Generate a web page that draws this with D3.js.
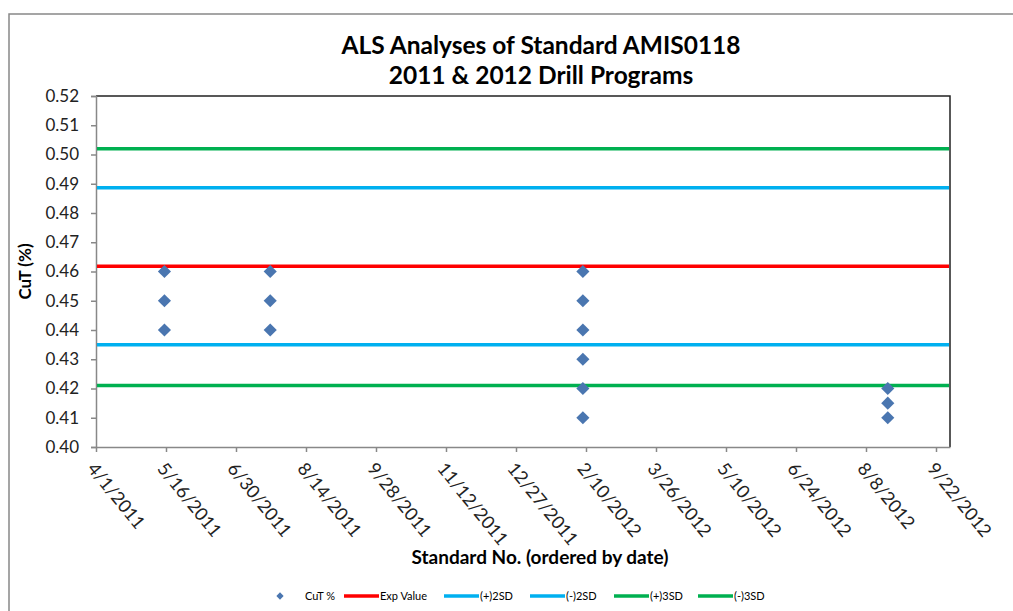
<!DOCTYPE html>
<html>
<head>
<meta charset="utf-8">
<script src="https://cdn.jsdelivr.net/npm/d3@7"></script>
<style>
  body { margin: 0; background: #fff; }
</style>
</head>
<body>
<div id="chart"></div>
<script>
// data
const sampleDates = ["2011-05-15", "2011-05-15", "2011-05-15",
                     "2011-07-22", "2011-07-22", "2011-07-22",
                     "2012-02-08", "2012-02-08", "2012-02-08", "2012-02-08", "2012-02-08", "2012-02-08",
                     "2012-08-22", "2012-08-22", "2012-08-22"];
const cutValues = [0.46, 0.45, 0.44,
                   0.46, 0.45, 0.44,
                   0.46, 0.45, 0.44, 0.43, 0.42, 0.41,
                   0.42, 0.415, 0.41];

const limitNames = ["Exp Value", "(+)2SD", "(-)2SD", "(+)3SD", "(-)3SD"];
const limitValues = [0.4618, 0.4886, 0.4350, 0.5020, 0.4210];
const limitColors = ["#ff0000", "#00b0f0", "#00b0f0", "#00b050", "#00b050"];

const xTickLabels = ["4/1/2011", "5/16/2011", "6/30/2011", "8/14/2011", "9/28/2011", "11/12/2011",
                     "12/27/2011", "2/10/2012", "3/26/2012", "5/10/2012", "6/24/2012", "8/8/2012", "9/22/2012"];
const yTicks = [0.40, 0.41, 0.42, 0.43, 0.44, 0.45, 0.46, 0.47, 0.48, 0.49, 0.50, 0.51, 0.52];

const width = 1013, height = 611;
const margin = { left: 96, top: 96, right: 63, bottom: 164 };
const font = "Lato, 'Open Sans', sans-serif";

const parse = d3.timeParse("%Y-%m-%d");
const parseTick = d3.timeParse("%m/%d/%Y");

const svg = d3.select("#chart").append("svg")
    .attr("width", width).attr("height", height)
    .style("font-family", font);

// outer chart border
svg.append("rect")
    .attr("x", 9).attr("y", 14)
    .attr("width", width + 10).attr("height", height + 10)
    .attr("fill", "none").attr("stroke", "#888").attr("stroke-width", 1.5);

const x = d3.scaleTime()
    .domain([parse("2011-04-01"), parse("2012-10-01")])
    .range([margin.left, width - margin.right]);
const y = d3.scaleLinear()
    .domain([0.40, 0.52])
    .range([height - margin.bottom, margin.top]);

// title
const title = svg.append("text")
    .attr("x", 541).attr("text-anchor", "middle")
    .style("font-size", "24.5px").style("font-weight", "bold").style("fill", "#000");
title.append("tspan").attr("x", 541).attr("y", 54).text("ALS Analyses of Standard AMIS0118");
title.append("tspan").attr("x", 541).attr("y", 84).text("2011 & 2012 Drill Programs");

// plot frame: black top/right
svg.append("path")
    .attr("d", `M${margin.left},${y(0.52)}H${x.range()[1]}V${y(0.40)}`)
    .attr("fill", "none").attr("stroke", "#222").attr("stroke-width", 1.5);

// y axis
const yAxis = svg.append("g")
    .attr("transform", `translate(${margin.left},0)`)
    .call(d3.axisLeft(y).tickValues(yTicks).tickFormat(d3.format(".2f")).tickSize(5).tickPadding(12));
yAxis.select(".domain").attr("stroke", "#888").attr("stroke-width", 1.5);
yAxis.selectAll(".tick line").attr("stroke", "#888").attr("stroke-width", 1.5);
yAxis.selectAll(".tick text").style("font-size", "17px").style("fill", "#222").style("font-family", font);

// x axis
const xAxis = svg.append("g")
    .attr("transform", `translate(0,${y(0.40)})`)
    .call(d3.axisBottom(x).tickValues(xTickLabels.map(parseTick))
        .tickFormat((d, i) => xTickLabels[i]).tickSize(5).tickSizeOuter(0));
xAxis.select(".domain").attr("stroke", "#888").attr("stroke-width", 1.5);
xAxis.selectAll(".tick line").attr("stroke", "#888").attr("stroke-width", 1.5);
xAxis.selectAll(".tick text")
    .style("font-size", "18px").style("fill", "#222").style("font-family", font)
    .attr("text-anchor", "start")
    .attr("transform", "translate(-5,18) rotate(51)")
    .attr("dy", "0.35em").attr("y", 0).attr("x", 0);

// axis titles
svg.append("text")
    .attr("transform", `translate(31,${(y(0.40) + y(0.52)) / 2}) rotate(-90)`)
    .attr("text-anchor", "middle")
    .style("font-size", "17px").style("font-weight", "bold")
    .text("CuT (%)");

svg.append("text")
    .attr("x", 540).attr("y", 564).attr("text-anchor", "middle")
    .style("font-size", "19px").style("font-weight", "bold")
    .text("Standard No. (ordered by date)");

// limit lines
svg.append("g").selectAll("line")
    .data(limitValues)
    .join("line")
    .attr("x1", x.range()[0] + 1).attr("x2", x.range()[1] - 1)
    .attr("y1", d => y(d)).attr("y2", d => y(d))
    .attr("stroke", (d, i) => limitColors[i]).attr("stroke-width", 3.5);

// points
const diamond = d3.symbol().type(d3.symbolDiamond2).size(110);
svg.append("g").selectAll("path")
    .data(cutValues)
    .join("path")
    .attr("d", diamond)
    .attr("transform", (d, i) => `translate(${x(parse(sampleDates[i]))},${y(d)})`)
    .attr("fill", "#4a76b0");

// legend
const legend = svg.append("g").attr("transform", "translate(0,596)")
    .style("font-size", "11px");
legend.append("path")
    .attr("d", d3.symbol().type(d3.symbolDiamond2).size(34))
    .attr("transform", "translate(280,0)")
    .attr("fill", "#4a76b0");
legend.append("text").attr("x", 305).attr("y", 0).attr("dy", "0.35em").text("CuT %");

const legendX = [344, 444, 530, 614, 698];
limitNames.forEach((name, i) => {
    legend.append("line")
        .attr("x1", legendX[i]).attr("x2", legendX[i] + 35)
        .attr("stroke", limitColors[i]).attr("stroke-width", 3.5);
    legend.append("text").attr("x", legendX[i] + 36).attr("dy", "0.35em").text(name);
});
</script>
</body>
</html>
